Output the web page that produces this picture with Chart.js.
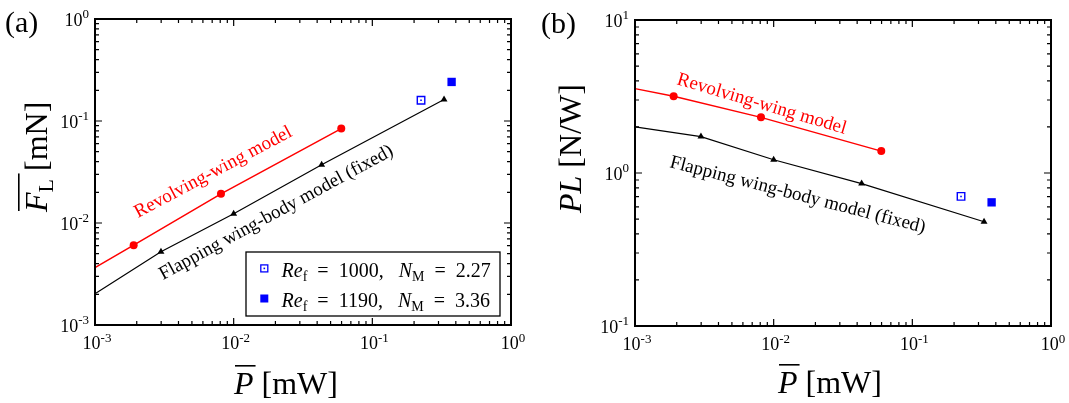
<!DOCTYPE html>
<html>
<head>
<meta charset="utf-8">
<script src="https://cdn.jsdelivr.net/npm/chart.js@4.4.1/dist/chart.umd.min.js"></script>
<style>
    html, body { margin: 0; padding: 0; background: #fff; }
    #wrap { position: relative; width: 1069px; height: 403px; }
    canvas { position: absolute; top: 0; }
</style>
</head>
<body>
<div id="wrap">
    <canvas id="chartA" width="535" height="403" style="left:0"></canvas>
    <canvas id="chartB" width="534" height="403" style="left:535px"></canvas>
</div>
<script>
// ============= DATA =============
// P in mW, F_L in mN, PL in N/W.
// First entry of each model line is where the line enters the left axis (no marker there).
const revolvingP = [0.001, 0.0019, 0.0081, 0.0597];
const revolvingF = [0.00365, 0.00606, 0.0193, 0.0842];
const revolvingPL = [3.56, 3.17, 2.31, 1.39];

const flappingP = [0.001, 0.00299, 0.0100, 0.0431, 0.329];
const flappingF = [0.00203, 0.00523, 0.01233, 0.0373, 0.1626];
const flappingPL = [2.0, 1.73, 1.22, 0.853, 0.48];

// Free-flight simulations
const re1000P = [0.2245];
const re1000F = [0.160];
const re1000PL = [0.703];
const re1190P = [0.373];
const re1190F = [0.2415];
const re1190PL = [0.643];

// Tick decades (powers of ten)
const xDecades = [-3, -2, -1, 0];
const yDecadesA = [-3, -2, -1, 0];
const yDecadesB = [-1, 0, 1];

// Legend text
const legendRe = ['1000', '1190'];
const legendNM = ['2.27', '3.36'];

const RED = '#ff0000';
const BLUE = '#0000ff';
const SERIF = '"Liberation Serif", "Times New Roman", serif';
const GAP = '\u2002'; // wider math-style space around "="

function font(size, italic) {
    return (italic ? 'italic ' : '') + size + 'px ' + SERIF;
}

function pts(xs, ys) {
    return xs.map((x, i) => ({ x: x, y: ys[i] }));
}

// Draw a run of text pieces [text, font, dy] left to right
function drawRich(ctx, x, y, parts) {
    let cx = x;
    parts.forEach(([text, f, dy]) => {
        ctx.font = f;
        ctx.fillText(text, cx, y + (dy || 0));
        cx += ctx.measureText(text).width;
    });
    return cx;
}

function richWidth(ctx, parts) {
    let w = 0;
    parts.forEach(([text, f]) => {
        ctx.font = f;
        w += ctx.measureText(text).width;
    });
    return w;
}

function powerLabel(exp) {
    return [['10', font(18)], [String(exp), font(13), -7.5]];
}

// Log ticks 1..9 x 10^e between the given decades
function logTicks(decades) {
    const out = [];
    const last = decades[decades.length - 1];
    for (let e = decades[0]; e < last; e++) {
        for (let k = 1; k < 10; k++) out.push({ v: k * Math.pow(10, e), major: k === 1 });
    }
    out.push({ v: Math.pow(10, last), major: true });
    return out;
}

// Frame, inward ticks, tick labels, titles and annotations
function decorPlugin(cfg) {
    return {
        id: 'decor',
        afterDatasetsDraw(chart) {
            const { ctx, chartArea: a } = chart;
            const x = chart.scales.x;
            const y = chart.scales.y;
            ctx.save();
            ctx.strokeStyle = '#000';
            ctx.lineWidth = 1.2;
            ctx.beginPath();
            logTicks(cfg.xDecades).forEach(t => {
                const px = x.getPixelForValue(t.v);
                const len = t.major ? 7 : 4;
                ctx.moveTo(px, a.bottom); ctx.lineTo(px, a.bottom - len);
                ctx.moveTo(px, a.top); ctx.lineTo(px, a.top + len);
            });
            logTicks(cfg.yDecades).forEach(t => {
                const py = y.getPixelForValue(t.v);
                const len = t.major ? 7 : 4;
                ctx.moveTo(a.left, py); ctx.lineTo(a.left + len, py);
                ctx.moveTo(a.right, py); ctx.lineTo(a.right - len, py);
            });
            ctx.stroke();
            ctx.lineWidth = 2;
            ctx.strokeRect(a.left, a.top, a.right - a.left, a.bottom - a.top);
            ctx.restore();
        },
        afterDraw(chart) {
            const { ctx, chartArea: a } = chart;
            const x = chart.scales.x;
            const y = chart.scales.y;
            ctx.save();
            ctx.fillStyle = '#000';
            ctx.textBaseline = 'alphabetic';
            ctx.textAlign = 'left';

            // tick labels
            cfg.xDecades.forEach(e => {
                const parts = powerLabel(e);
                const w = richWidth(ctx, parts);
                drawRich(ctx, x.getPixelForValue(Math.pow(10, e)) + 2 - w / 2, a.bottom + 24, parts);
            });
            cfg.yDecades.forEach(e => {
                const parts = powerLabel(e);
                const w = richWidth(ctx, parts);
                drawRich(ctx, a.left - 6 - w, y.getPixelForValue(Math.pow(10, e)) + 6.5, parts);
            });

            // panel label
            ctx.font = font(30);
            ctx.fillText(cfg.panel, cfg.panelPos[0], cfg.panelPos[1]);

            // x title: P-bar [mW]
            const tx = cfg.xTitlePos[0], ty = cfg.xTitlePos[1];
            ctx.font = font(32, true);
            const pw = ctx.measureText('P').width;
            drawRich(ctx, tx, ty, [['P', font(32, true)], [' [mW]', font(32)]]);
            ctx.fillRect(tx + 1, ty - 29, pw + 1, 1.6);

            // y title (rotated)
            ctx.save();
            ctx.translate(cfg.yTitlePos[0], cfg.yTitlePos[1]);
            ctx.rotate(-Math.PI / 2);
            drawRich(ctx, 0, 0, cfg.yTitleParts);
            if (cfg.yTitleBar) {
                ctx.font = font(32, true);
                ctx.fillRect(1, -29, ctx.measureText('F').width + 18, 1.6);
            }
            ctx.restore();

            // annotations along the model lines
            cfg.notes.forEach(n => {
                ctx.save();
                ctx.translate(n.pos[0], n.pos[1]);
                ctx.rotate(n.angle * Math.PI / 180);
                ctx.fillStyle = n.color;
                ctx.font = font(19);
                ctx.fillText(n.text, 0, 0);
                ctx.restore();
            });

            // legend box
            if (cfg.legend) {
                const L = cfg.legend;
                ctx.strokeStyle = '#000';
                ctx.lineWidth = 1.3;
                ctx.strokeRect(L.box[0], L.box[1], L.box[2], L.box[3]);
                legendRe.forEach((re, i) => {
                    const my = L.rows[i];
                    const mx = L.markerX;
                    if (i === 0) {
                        ctx.strokeStyle = BLUE;
                        ctx.lineWidth = 1.3;
                        ctx.strokeRect(mx - 3.5, my - 3.5, 7, 7);
                        ctx.fillStyle = BLUE;
                        ctx.fillRect(mx - 0.8, my - 0.8, 1.6, 1.6);
                    } else {
                        ctx.fillStyle = BLUE;
                        ctx.fillRect(mx - 4, my - 4, 8, 8);
                    }
                    ctx.fillStyle = '#000';
                    drawRich(ctx, L.textX, my + 8.5, [
                        ['Re', font(20, true)],
                        ['f', font(14), 4],
                        [GAP + '=' + GAP + re + ',' + GAP + ' ', font(20)],
                        ['N', font(20, true)],
                        ['M', font(14), 4],
                        [GAP + '=' + GAP + legendNM[i], font(20)]
                    ]);
                });
            }
            ctx.restore();
        }
    };
}

function lineDataset(label, data, color, style, width, radius) {
    return {
        label: label,
        data: data,
        showLine: true,
        borderColor: color,
        borderWidth: width,
        pointStyle: style,
        pointRadius: ctx => (ctx.dataIndex === 0 ? 0 : radius),
        pointBackgroundColor: color,
        pointBorderWidth: 0,
        pointBorderColor: color
    };
}

function freeFlightDatasets(p1, v1, p2, v2) {
    return [
        { label: 're1000', data: pts(p1, v1), pointStyle: 'rect', pointRadius: 5.3,
          pointBorderColor: BLUE, pointBorderWidth: 1.4, pointBackgroundColor: 'rgba(0,0,0,0)' },
        { label: 're1000 dot', data: pts(p1, v1), pointStyle: 'rect', pointRadius: 1.1,
          pointBorderWidth: 0, pointBackgroundColor: BLUE },
        { label: 're1190', data: pts(p2, v2), pointStyle: 'rect', pointRadius: 5.9,
          pointBorderWidth: 0, pointBackgroundColor: BLUE }
    ];
}

function makeChart(id, datasets, yMin, yMax, padding, decor) {
    return new Chart(document.getElementById(id), {
        type: 'scatter',
        data: { datasets: datasets },
        options: {
            responsive: false,
            animation: false,
            clip: false,
            layout: { padding: padding, autoPadding: false },
            plugins: { legend: { display: false }, tooltip: { enabled: false } },
            scales: {
                x: { type: 'logarithmic', min: 1e-3, max: 1, display: false },
                y: { type: 'logarithmic', min: yMin, max: yMax, display: false }
            }
        },
        plugins: [decorPlugin(decor)]
    });
}

// ============= (a) Lift vs power =============
makeChart('chartA', [
    lineDataset('Revolving-wing model', pts(revolvingP, revolvingF), RED, 'circle', 1.5, 4),
    lineDataset('Flapping wing-body model (fixed)', pts(flappingP, flappingF), '#000', 'triangle', 1.2, 4)
].concat(freeFlightDatasets(re1000P, re1000F, re1190P, re1190F)),
    1e-3, 1,
    { left: 95, top: 19, right: 24, bottom: 78 },
    {
        xDecades: xDecades,
        yDecades: yDecadesA,
        panel: '(a)',
        panelPos: [5, 32],
        xTitlePos: [234, 394],
        yTitlePos: [47, 212],
        yTitleBar: true,
        yTitleParts: [['F', font(32, true)], ['L', font(22), 6], [' [mN]', font(32)]],
        notes: [
            { text: 'Revolving-wing model', pos: [138, 218], angle: -28, color: RED },
            { text: 'Flapping wing-body model (fixed)', pos: [163, 280], angle: -28.5, color: '#000' }
        ],
        legend: { box: [246, 252, 254, 64], markerX: 264.3, rows: [268.4, 298.5], textX: 281.6 }
    });

// ============= (b) Power loading vs power =============
makeChart('chartB', [
    lineDataset('Revolving-wing model', pts(revolvingP, revolvingPL), RED, 'circle', 1.5, 4),
    lineDataset('Flapping wing-body model (fixed)', pts(flappingP, flappingPL), '#000', 'triangle', 1.2, 4)
].concat(freeFlightDatasets(re1000P, re1000PL, re1190P, re1190PL)),
    0.1, 10,
    { left: 100, top: 20, right: 18, bottom: 77 },
    {
        xDecades: xDecades,
        yDecades: yDecadesB,
        panel: '(b)',
        panelPos: [6, 33],
        xTitlePos: [243, 393],
        yTitlePos: [46, 213],
        yTitleBar: false,
        yTitleParts: [['PL', font(32, true)], [' [N/W]', font(32)]],
        notes: [
            { text: 'Revolving-wing model', pos: [141, 84], angle: 16.5, color: RED },
            { text: 'Flapping wing-body model (fixed)', pos: [134, 167], angle: 14.5, color: '#000' }
        ],
        legend: null
    });
</script>
</body>
</html>
